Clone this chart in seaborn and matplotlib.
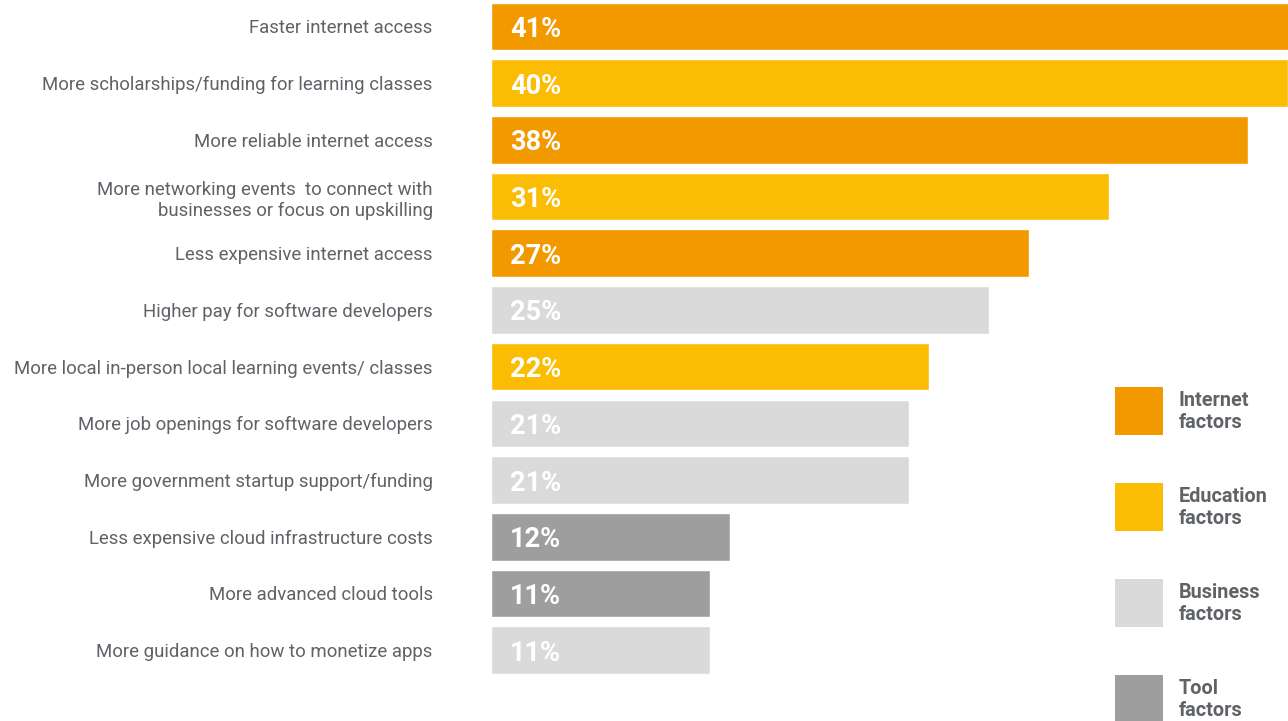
import matplotlib
matplotlib.use("Agg")
import matplotlib.pyplot as plt
import pandas as pd
import seaborn as sns
from matplotlib.patches import Rectangle

factors = [
    "Faster internet access",
    "More scholarships/funding for learning classes",
    "More reliable internet access",
    "More networking events  to connect with\nbusinesses or focus on upskilling",
    "Less expensive internet access",
    "Higher pay for software developers",
    "More local in-person local learning events/ classes",
    "More job openings for software developers",
    "More government startup support/funding",
    "Less expensive cloud infrastructure costs",
    "More advanced cloud tools",
    "More guidance on how to monetize apps",
]
shares = [41, 40, 38, 31, 27, 25, 22, 21, 21, 12, 11, 11]
groups = [
    "Internet", "Education", "Internet", "Education", "Internet", "Business",
    "Education", "Business", "Business", "Tool", "Tool", "Business",
]
group_names = ["Internet", "Education", "Business", "Tool"]
group_colors = ["#F29900", "#FBBC04", "#DADADA", "#9E9E9E"]

palette = dict(zip(group_names, group_colors))
df = pd.DataFrame({"factor": factors, "share": shares, "group": groups})

sns.set_theme(style="white")
plt.rcParams["font.family"] = ["Roboto", "DejaVu Sans"]

fig = plt.figure(figsize=(12.88, 7.21), dpi=100)
ax = fig.add_axes([491 / 1288, 0, 797 / 1288, 1])

sns.barplot(
    data=df, x="share", y="factor", hue="group", palette=palette,
    dodge=False, width=0.84, orient="h", legend=False, saturation=1, ax=ax,
)

ax.set_xlim(0, 40)
ax.set_ylim(12.25, -0.467)
ax.set_xlabel("")
ax.set_ylabel("")
ax.set_xticks([])
sns.despine(ax=ax, left=True, bottom=True)
ax.tick_params(axis="y", length=0, pad=42, labelsize=13.4, labelcolor="#5f6368")
for lab in ax.get_yticklabels():
    lab.set_linespacing(1.25)

for i, v in enumerate(shares):
    ax.text(0.95, i, f"{v}%", va="center_baseline", ha="left", color="white",
            fontsize=19.5, fontweight="bold")

# legend blocks on the right
for k, (name, col) in enumerate(zip(group_names, group_colors)):
    top = 387 + 96 * k
    fig.add_artist(Rectangle((1115 / 1288, 1 - (top + 48) / 721), 48 / 1288, 48 / 721,
                             transform=fig.transFigure, facecolor=col, edgecolor="none"))
    fig.text(1179 / 1288, 1 - (top + 25) / 721, f"{name}\nfactors", va="center",
             ha="left", fontsize=14.3, fontweight="bold", color="#5f6368", linespacing=1.2)

fig.savefig("out.png", dpi=100)
